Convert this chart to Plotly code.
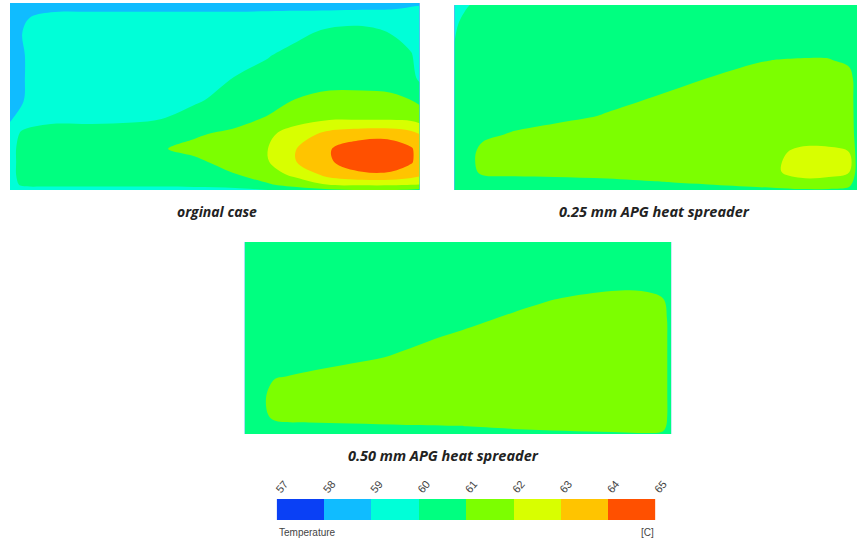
import plotly.graph_objects as go

# ---------------- data ----------------
levels = [57, 58, 59, 60, 61, 62, 63, 64, 65]
level_labels = ["57", "58", "59", "60", "61", "62", "63", "64", "65"]
band_colors = ["#0a40f5", "#10bcff", "#00ffd8", "#00ff80",
               "#7cff00", "#d8ff00", "#ffc400", "#ff5000"]

panel_titles = ["orginal case", "0.25 mm APG heat spreader", "0.50 mm APG heat spreader"]

# original case: temperature grid (rows bottom -> top)
p1_x = [0, 0.03, 0.1, 0.2, 0.3, 0.37, 0.45, 0.55, 0.63, 0.7, 0.78, 0.86, 0.93, 0.98, 1.0]
p1_y = [0, 0.03, 0.08, 0.15, 0.22, 0.3, 0.38, 0.48, 0.6, 0.72, 0.84, 0.92, 0.97, 1.0]
p1_t = [
    [59.2, 59.5, 59.5, 59.5, 59.5, 59.5, 59.6, 59.7, 60.0, 60.4, 60.8, 61.0, 61.0, 60.9, 60.8],
    [59.5, 60.2, 60.3, 60.3, 60.3, 60.3, 60.35, 60.5, 60.9, 61.5, 62.1, 62.2, 62.2, 62.1, 62.0],
    [59.6, 60.4, 60.5, 60.5, 60.5, 60.6, 60.7, 60.95, 61.6, 62.2, 63.3, 63.8, 63.8, 63.4, 63.2],
    [59.6, 60.4, 60.5, 60.5, 60.6, 60.8, 60.85, 61.3, 61.95, 63.0, 63.9, 64.6, 64.6, 64.1, 63.6],
    [59.6, 60.4, 60.5, 60.5, 60.7, 60.95, 61.2, 61.4, 62.0, 63.0, 63.95, 64.6, 64.6, 64.1, 63.6],
    [59.4, 60.2, 60.4, 60.4, 60.5, 60.6, 60.9, 61.2, 61.8, 62.5, 63.3, 63.6, 63.6, 63.3, 63.0],
    [58.9, 59.4, 59.8, 59.8, 59.85, 60.0, 60.3, 60.7, 61.1, 61.6, 61.9, 61.9, 61.9, 61.8, 61.6],
    [58.7, 58.95, 59.5, 59.6, 59.6, 59.7, 59.9, 60.3, 60.6, 61.05, 61.3, 61.3, 61.25, 61.0, 60.8],
    [58.6, 58.95, 59.5, 59.5, 59.5, 59.5, 59.7, 60.02, 60.3, 60.5, 60.6, 60.6, 60.5, 60.3, 59.8],
    [58.6, 58.95, 59.5, 59.5, 59.5, 59.5, 59.5, 59.75, 59.95, 60.3, 60.5, 60.5, 60.4, 60.05, 59.7],
    [58.6, 59.0, 59.5, 59.5, 59.5, 59.5, 59.5, 59.5, 59.6, 59.8, 60.2, 60.25, 59.98, 59.7, 59.6],
    [58.5, 58.9, 59.3, 59.3, 59.3, 59.3, 59.3, 59.3, 59.4, 59.5, 59.6, 59.7, 59.5, 59.3, 59.2],
    [58.3, 58.6, 58.8, 58.85, 58.85, 58.85, 58.85, 58.85, 58.85, 58.85, 58.85, 58.9, 58.95, 59.05, 59.1],
    [58.2, 58.4, 58.6, 58.7, 58.75, 58.75, 58.75, 58.75, 58.75, 58.75, 58.8, 58.8, 58.85, 58.9, 58.9],
]

# 0.25 mm APG heat spreader
p2_x = [0, 0.03, 0.07, 0.15, 0.25, 0.38, 0.5, 0.63, 0.75, 0.8, 0.86, 0.93, 0.98, 1.0]
p2_y = [0, 0.04, 0.1, 0.2, 0.3, 0.4, 0.5, 0.6, 0.7, 0.8, 0.9, 1.0]
p2_t = [
    [60.3, 60.4, 60.5, 60.5, 60.5, 60.5, 60.6, 60.7, 60.8, 60.85, 60.9, 60.9, 60.8, 60.5],
    [60.3, 60.5, 60.6, 60.6, 60.7, 60.8, 60.95, 61.1, 61.3, 61.4, 61.7, 61.6, 61.3, 60.6],
    [60.3, 60.6, 61.2, 61.3, 61.3, 61.35, 61.4, 61.5, 61.6, 61.9, 62.4, 62.4, 62.1, 60.7],
    [60.3, 60.6, 61.3, 61.35, 61.4, 61.4, 61.45, 61.5, 61.6, 61.85, 62.2, 62.2, 62.05, 60.7],
    [60.3, 60.5, 60.8, 61.1, 61.3, 61.35, 61.4, 61.45, 61.5, 61.55, 61.6, 61.6, 61.5, 60.7],
    [60.2, 60.4, 60.5, 60.6, 60.8, 61.05, 61.3, 61.4, 61.45, 61.5, 61.5, 61.5, 61.4, 60.7],
    [60.2, 60.3, 60.4, 60.5, 60.6, 60.8, 61.02, 61.3, 61.4, 61.45, 61.45, 61.45, 61.35, 60.7],
    [60.2, 60.3, 60.4, 60.4, 60.5, 60.6, 60.75, 61.02, 61.3, 61.35, 61.4, 61.4, 61.3, 60.7],
    [60.1, 60.3, 60.3, 60.4, 60.4, 60.5, 60.55, 60.7, 60.95, 61.02, 61.05, 61.05, 60.85, 60.6],
    [60.0, 60.3, 60.3, 60.3, 60.4, 60.4, 60.45, 60.5, 60.6, 60.6, 60.65, 60.6, 60.5, 60.4],
    [59.9, 60.2, 60.3, 60.3, 60.3, 60.4, 60.4, 60.4, 60.4, 60.45, 60.45, 60.4, 60.4, 60.3],
    [59.7, 59.95, 60.2, 60.3, 60.3, 60.3, 60.3, 60.3, 60.3, 60.35, 60.35, 60.3, 60.3, 60.2],
]

# 0.50 mm APG heat spreader
p3_x = [0, 0.025, 0.07, 0.15, 0.25, 0.38, 0.5, 0.63, 0.75, 0.86, 0.93, 0.98, 1.0]
p3_y = [0, 0.04, 0.1, 0.2, 0.3, 0.4, 0.5, 0.6, 0.7, 0.8, 0.9, 1.0]
p3_t = [
    [60.3, 60.4, 60.5, 60.5, 60.55, 60.6, 60.7, 60.8, 60.85, 60.9, 60.95, 60.9, 60.6],
    [60.3, 60.5, 60.8, 60.85, 60.9, 60.95, 60.98, 61.1, 61.2, 61.3, 61.3, 61.2, 60.7],
    [60.3, 60.6, 61.2, 61.3, 61.3, 61.35, 61.4, 61.4, 61.45, 61.5, 61.5, 61.35, 60.7],
    [60.3, 60.6, 61.3, 61.35, 61.4, 61.4, 61.45, 61.45, 61.5, 61.5, 61.5, 61.35, 60.7],
    [60.3, 60.5, 60.95, 61.1, 61.3, 61.35, 61.4, 61.45, 61.5, 61.5, 61.5, 61.35, 60.7],
    [60.2, 60.4, 60.6, 60.7, 60.85, 61.1, 61.3, 61.4, 61.45, 61.5, 61.5, 61.35, 60.7],
    [60.2, 60.3, 60.5, 60.55, 60.6, 60.85, 61.1, 61.3, 61.4, 61.45, 61.45, 61.35, 60.7],
    [60.2, 60.3, 60.4, 60.5, 60.5, 60.6, 60.8, 61.1, 61.3, 61.4, 61.4, 61.3, 60.7],
    [60.1, 60.3, 60.35, 60.4, 60.45, 60.5, 60.6, 60.8, 61.05, 61.2, 61.2, 61.05, 60.6],
    [60.1, 60.25, 60.3, 60.35, 60.4, 60.4, 60.45, 60.5, 60.6, 60.75, 60.75, 60.6, 60.4],
    [60.1, 60.2, 60.3, 60.3, 60.3, 60.35, 60.35, 60.4, 60.4, 60.45, 60.45, 60.4, 60.3],
    [60.05, 60.2, 60.25, 60.3, 60.3, 60.3, 60.3, 60.3, 60.3, 60.3, 60.3, 60.3, 60.2],
]

# ---------------- figure ----------------
nb = len(band_colors)
band_cs = []
for k, col in enumerate(band_colors):
    band_cs.append([k / nb, col])
    band_cs.append([(k + 1) / nb, col])

fig = go.Figure()

panels = [(p1_x, p1_y, p1_t, "x", "y"),
          (p2_x, p2_y, p2_t, "x2", "y2"),
          (p3_x, p3_y, p3_t, "x3", "y3")]
for px, py, pt, xa, ya in panels:
    fig.add_trace(go.Contour(
        x=px, y=py, z=pt,
        autocontour=False,
        contours=dict(start=levels[0], end=levels[-1], size=1,
                      coloring="fill", showlines=False),
        colorscale=band_cs, zmin=levels[0], zmax=levels[-1],
        line=dict(width=0, smoothing=1.0),
        showscale=False, hoverinfo="skip",
        xaxis=xa, yaxis=ya,
    ))

band_mid = [(a + b) / 2 for a, b in zip(levels[:-1], levels[1:])]
fig.add_trace(go.Heatmap(
    x=levels, y=[0, 1], z=[band_mid],
    colorscale=band_cs, zmin=levels[0], zmax=levels[-1],
    showscale=False, hoverinfo="skip",
    xaxis="x4", yaxis="y4",
))

W, H = 857, 544          # target picture size
FW = 873                 # figure width (page is squeezed horizontally to W)
def dx(a, b):
    return [a / W, b / W]
def dy(top, bottom):
    return [1 - bottom / H, 1 - top / H]

hidden = dict(visible=False, range=[0, 1], fixedrange=True)
fig.update_layout(
    width=FW, height=H, autosize=False,
    margin=dict(l=0, r=0, t=0, b=0),
    paper_bgcolor="white", plot_bgcolor="white",
    showlegend=False,
    xaxis=dict(hidden, domain=dx(7, 417), anchor="y"),
    yaxis=dict(hidden, domain=dy(3, 190), anchor="x"),
    xaxis2=dict(hidden, domain=dx(452, 855), anchor="y2"),
    yaxis2=dict(hidden, domain=dy(5, 190), anchor="x2"),
    xaxis3=dict(hidden, domain=dx(242, 669), anchor="y3"),
    yaxis3=dict(hidden, domain=dy(242, 434), anchor="x3"),
    xaxis4=dict(domain=dx(274, 653), anchor="y4", side="top",
                range=[levels[0], levels[-1]], fixedrange=True,
                tickvals=levels, ticktext=level_labels, tickangle=-50,
                ticks="", showgrid=False, zeroline=False, showline=False,
                tickfont=dict(family="Liberation Sans, Arial", size=11, color="#444")),
    yaxis4=dict(domain=dy(499, 520), anchor="x4", range=[0, 1],
                visible=False, fixedrange=True),
)

title_font = dict(family="Open Sans, Lato, sans-serif", color="#222")
fig.add_annotation(text="<b><i>" + panel_titles[0] + "</i></b>", x=214 / W, y=1 - 212 / H,
                   xanchor="center", yanchor="middle",
                   xref="paper", yref="paper", showarrow=False,
                   font=dict(title_font, size=14))
fig.add_annotation(text="<b><i>" + panel_titles[1] + "</i></b>", x=652 / W, y=1 - 212 / H,
                   xanchor="center", yanchor="middle",
                   xref="paper", yref="paper", showarrow=False,
                   font=dict(title_font, size=14.5))
fig.add_annotation(text="<b><i>" + panel_titles[2] + "</i></b>", x=441 / W, y=1 - 455 / H,
                   xanchor="center", yanchor="middle",
                   xref="paper", yref="paper", showarrow=False,
                   font=dict(title_font, size=14.5))
fig.add_annotation(text="Temperature", x=274 / W, y=1 - 532 / H, xanchor="left",
                   yanchor="middle",
                   xref="paper", yref="paper", showarrow=False,
                   font=dict(family="Liberation Sans, Arial", size=10, color="#444"))
fig.add_annotation(text="[C]", x=654 / W, y=1 - 532 / H, xanchor="right",
                   yanchor="middle",
                   xref="paper", yref="paper", showarrow=False,
                   font=dict(family="Liberation Sans, Arial", size=10, color="#444"))

fig.write_html("out.html",
               config={"responsive": False, "displayModeBar": False},
               post_script="document.body.style.margin='0';")
